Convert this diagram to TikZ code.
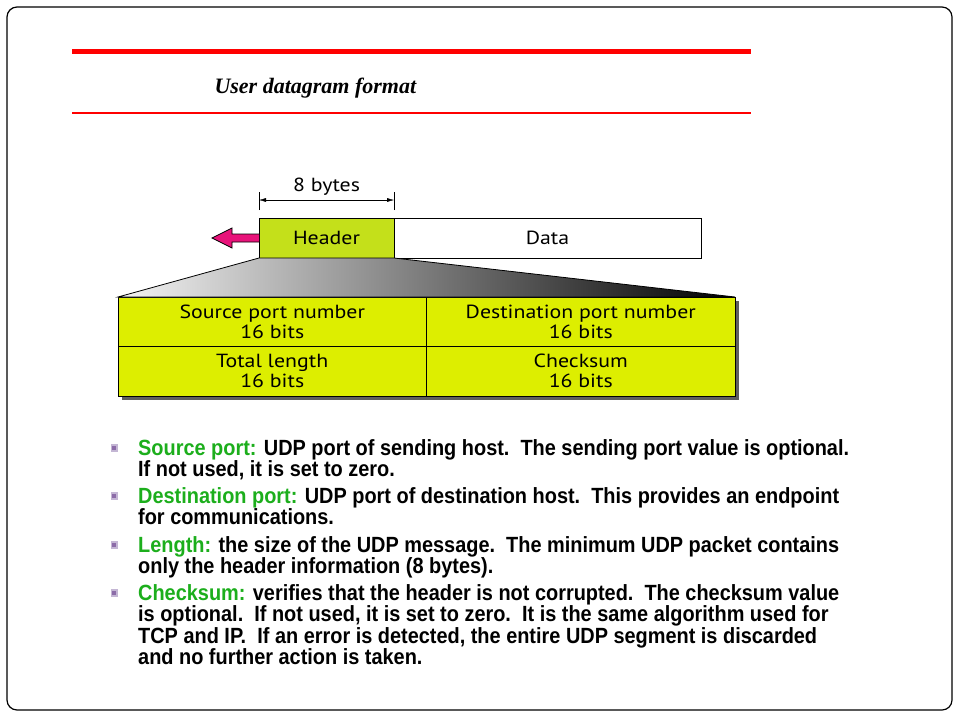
\documentclass[tikz,border=0pt]{standalone}
\usepackage{fontspec}
\setmainfont{Liberation Serif}
\newfontfamily\figfont[FakeStretch=1.15]{PT Sans}
\newfontfamily\notefont[FakeStretch=0.98]{Liberation Sans}[BoldFeatures={FakeStretch=0.905}]
\usetikzlibrary{positioning, calc, arrows.meta}
\definecolor{slidered}{HTML}{FF0000}
\definecolor{hdrgreen}{HTML}{C4E01A}
\definecolor{cellyellow}{HTML}{DDEE00}
\definecolor{arrowpink}{HTML}{E8137A}
\definecolor{keygreen}{HTML}{1CAE1C}
\definecolor{bulletlilac}{HTML}{C4B6D4}
\definecolor{bulletpurple}{HTML}{8C6CA8}
\definecolor{shadowgray}{HTML}{5E5E5E}

\tikzset{
  boxtext/.style={font=\figfont\fontsize{19}{20}\selectfont},
  segbox/.style={draw, boxtext, minimum height=40pt, inner sep=0pt, outer sep=0pt},
  cell/.style={draw, fill=cellyellow, boxtext, align=center, minimum width=308.5pt,
    minimum height=49.5pt, inner sep=0pt, outer sep=0pt},
  note/.style={anchor=north west, align=left, inner sep=0pt,
    font=\notefont\bfseries\fontsize{22}{21.6}\selectfont},
  bulletbox/.style={fill=bulletlilac, minimum width=7pt, minimum height=8pt, inner sep=0pt}
}
\newcommand{\key}[1]{\textcolor{keygreen}{#1}}

\begin{document}
\begin{tikzpicture}[x=1pt, y=-1pt]
  \useasboundingbox (0,0) rectangle (960,720);

  % slide frame and title
  \draw[line width=1.2pt, rounded corners=10pt] (7,7) rectangle (952,710);
  \draw[slidered, line width=5pt] (72,51) -- (751,51);
  \draw[slidered, line width=1.8pt] (72,113) -- (751,113);
  \node[font=\bfseries\itshape\fontsize{22}{26}\selectfont, anchor=west] (title) at (211,88) {User datagram format};

  % datagram
  \node[segbox, fill=hdrgreen, minimum width=135pt] (header) at (326.5,238) {Header};
  \node[segbox, fill=white, minimum width=307pt, right=0pt of header] (data) {Data};

  % size marker
  \coordinate (ml) at ($(header.north west)+(0,-18)$);
  \coordinate (mr) at ($(header.north east)+(0,-18)$);
  \draw ($(header.north west)+(0,-8)$) -- ($(header.north west)+(0,-26)$);
  \draw ($(header.north east)+(0,-8)$) -- ($(header.north east)+(0,-26)$);
  \draw[{Latex[length=7pt,width=4pt]}-{Latex[length=7pt,width=4pt]}] (ml) -- (mr);
  \node[boxtext, above=1pt of $(ml)!0.5!(mr)$] (size) {8 bytes};

  % direction arrow
  \coordinate (tip) at ($(header.west)+(-47,0)$);
  \draw[fill=arrowpink, line width=0.8pt, line join=miter]
    ($(header.west)+(0,-4)$) -- ++(-27,0) -- ++(0,-6) -- (tip)
    -- ($(header.west)+(-27,10)$) -- ++(0,-6) -- ($(header.west)+(0,4)$);

  % header fields
  \fill[shadowgray] (122,301) rectangle (739,400);
  \node[cell] (srcport) at (272.25,321.75) {Source port number\\16 bits};
  \node[cell, right=0pt of srcport] (dstport) {Destination port number\\16 bits};
  \node[cell, below=0pt of srcport] (length) {Total length\\16 bits};
  \node[cell, right=0pt of length] (checksum) {Checksum\\16 bits};

  % zoom wedge
  \draw[left color=gray!8, right color=black, line width=0.8pt]
    (header.south west) -- (srcport.north west) -- (dstport.north east)
    -- (header.south east) -- cycle;

  % notes
  \foreach \y/\n in {448/a, 496/b, 545/c, 593/d}
    \node[bulletbox] (bul\n) at (114,\y) {};
  \foreach \n in {a, b, c, d}
    \fill[bulletpurple] ($(bul\n.center)+(-2,-2)$) rectangle ($(bul\n.center)+(2,2)$);

  \node[note] (srcnote) at (138,439)
    {\key{Source port:} UDP port of sending host.\ \ The sending port value is optional.\\
     If not used, it is set to zero.};
  \node[note] (dstnote) at (138,487)
    {\key{Destination port:} UDP port of destination host.\ \ This provides an endpoint\\
     for communications.};
  \node[note] (lennote) at (138,536)
    {\key{Length:} the size of the UDP message.\ \ The minimum UDP packet contains\\
     only the header information (8 bytes).};
  \node[note] (chknote) at (138,584)
    {\key{Checksum:} verifies that the header is not corrupted.\ \ The checksum value\\
     is optional.\ \ If not used, it is set to zero.\ \ It is the same algorithm used for\\
     TCP and IP.\ \ If an error is detected, the entire UDP segment is discarded\\
     and no further action is taken.};
\end{tikzpicture}
\end{document}
